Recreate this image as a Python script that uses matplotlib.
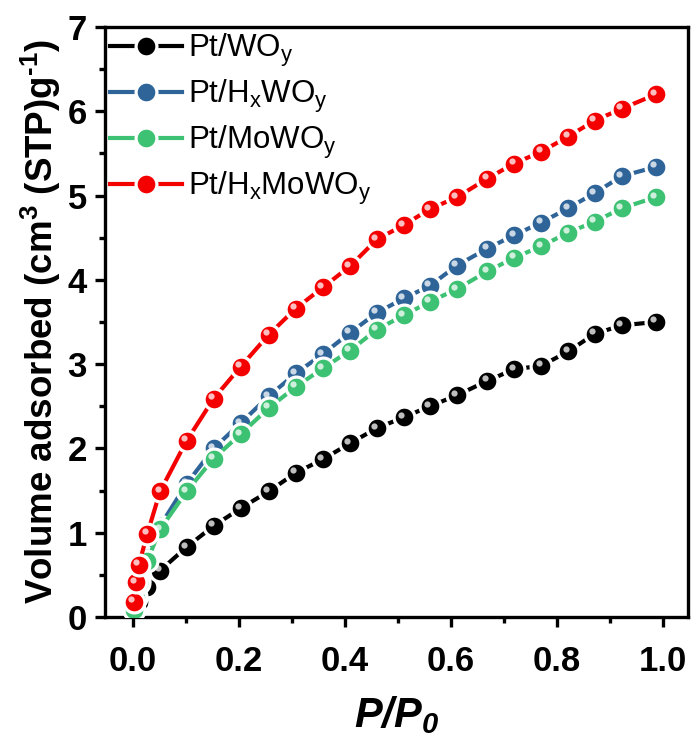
import matplotlib
matplotlib.use("Agg")
import matplotlib.pyplot as plt
import matplotlib.transforms as mtransforms
from matplotlib.ticker import MultipleLocator

plt.rcParams['font.family'] = ['Liberation Sans', 'DejaVu Sans']
plt.rcParams['mathtext.fontset'] = 'custom'
plt.rcParams['mathtext.rm'] = 'Liberation Sans'
plt.rcParams['mathtext.bf'] = 'Liberation Sans:bold'
plt.rcParams['mathtext.it'] = 'Liberation Sans:italic'
plt.rcParams['mathtext.bfit'] = 'Liberation Sans:italic:bold'

p_p0 = [0.001, 0.005, 0.011, 0.027, 0.051, 0.101, 0.152, 0.203, 0.256, 0.307,
        0.358, 0.409, 0.460, 0.511, 0.560, 0.611, 0.668, 0.719, 0.770, 0.821,
        0.871, 0.922, 0.986]

pt_woy = [0.09, 0.13, 0.18, 0.35, 0.55, 0.83, 1.08, 1.29, 1.49, 1.71,
          1.87, 2.06, 2.24, 2.37, 2.50, 2.63, 2.80, 2.94, 2.98, 3.15,
          3.36, 3.46, 3.50]
pt_hxwoy = [0.10, 0.25, 0.44, 0.70, 1.08, 1.58, 2.00, 2.30, 2.62, 2.89,
            3.12, 3.37, 3.61, 3.78, 3.93, 4.17, 4.37, 4.53, 4.68, 4.85,
            5.03, 5.23, 5.34]
pt_mowoy = [0.08, 0.22, 0.40, 0.67, 1.04, 1.49, 1.88, 2.17, 2.48, 2.73,
            2.95, 3.16, 3.41, 3.58, 3.74, 3.89, 4.10, 4.26, 4.40, 4.56,
            4.69, 4.85, 4.98]
pt_hxmowoy = [0.18, 0.41, 0.62, 0.99, 1.49, 2.09, 2.59, 2.97, 3.35, 3.66,
              3.91, 4.16, 4.48, 4.65, 4.84, 4.98, 5.20, 5.38, 5.52, 5.70,
              5.89, 6.03, 6.20]

labels = [r'Pt/WO$_\mathrm{y}$', r'Pt/H$_\mathrm{x}$WO$_\mathrm{y}$',
          r'Pt/MoWO$_\mathrm{y}$', r'Pt/H$_\mathrm{x}$MoWO$_\mathrm{y}$']
colors = ['#000000', '#2F6499', '#3DC172', '#F50000']
series = [pt_woy, pt_hxwoy, pt_mowoy, pt_hxmowoy]

fig = plt.figure(figsize=(6.92, 7.42), dpi=100)
ax = fig.add_axes([0.1517, 0.1685, 0.8425, 0.7951])

hl_trans = mtransforms.offset_copy(ax.transData, fig=fig, x=-2.5, y=2.5, units='dots')

for vals, col, lab in zip(series, colors, labels):
    ax.plot(p_p0, vals, '-', color=col, lw=3.0, marker='o', ms=15,
            mfc=col, mec='white', mew=2.3, label=lab, zorder=3)
    ax.plot(p_p0, vals, 'o', color='white', ms=4.5, mew=0, alpha=0.75,
            transform=hl_trans, zorder=3)

ax.set_xlim(-0.053, 1.047)
ax.set_ylim(0, 7)
ax.xaxis.set_major_locator(MultipleLocator(0.2))
ax.xaxis.set_minor_locator(MultipleLocator(0.1))
ax.yaxis.set_major_locator(MultipleLocator(1))
ax.yaxis.set_minor_locator(MultipleLocator(0.5))
ax.set_xticks([0.0, 0.2, 0.4, 0.6, 0.8, 1.0])
ax.set_xticklabels(['0.0', '0.2', '0.4', '0.6', '0.8', '1.0'])
ax.set_yticks([0, 1, 2, 3, 4, 5, 6, 7])

for sp in ax.spines.values():
    sp.set_linewidth(2.4)
ax.tick_params(which='major', direction='out', length=7, width=2.4,
               labelsize=25, pad=13)
ax.tick_params(which='minor', direction='out', length=4.5, width=2.4)
ax.tick_params(axis='y', which='major', pad=6)
for t in ax.get_xticklabels() + ax.get_yticklabels():
    t.set_fontweight('bold')

ax.set_ylabel('Volume adsorbed (cm$^\\mathbf{3}$ (STP)g$^\\mathbf{\u2010 1}$)',
              fontsize=26.5, fontweight='bold', labelpad=3)
ax.set_xlabel(r'$\mathbfit{P/P_0}$', fontsize=30, labelpad=12)

leg = ax.legend(loc='upper left', bbox_to_anchor=(0.0, 1.0), frameon=False,
                fontsize=22.5, handlelength=2.3, handletextpad=0.2,
                labelspacing=0.28, borderaxespad=0.05, borderpad=0.1)

fig.savefig('out.png', dpi=100)
